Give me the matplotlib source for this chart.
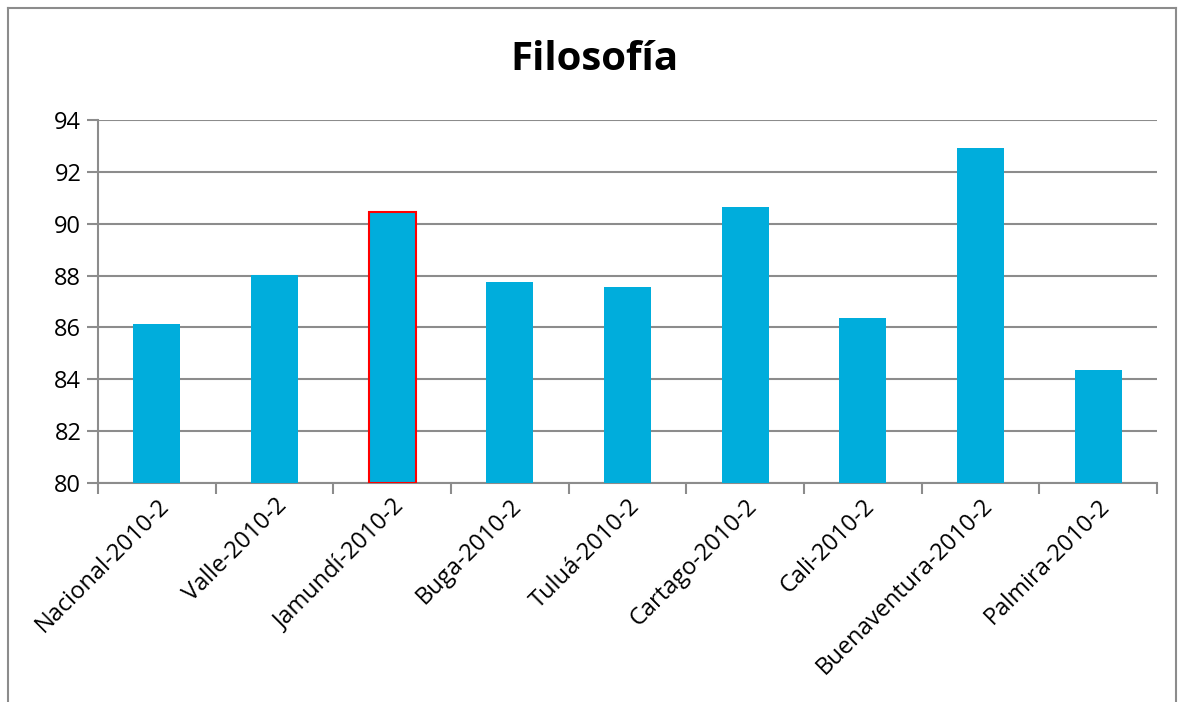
import matplotlib
matplotlib.use('Agg')
from matplotlib import pyplot as plt
from matplotlib.lines import Line2D

plt.rcParams['font.family'] = ['Open Sans', 'DejaVu Sans']

# data
sedes = ['Nacional-2010-2', 'Valle-2010-2', 'Jamundí-2010-2', 'Buga-2010-2', 'Tuluá-2010-2',
         'Cartago-2010-2', 'Cali-2010-2', 'Buenaventura-2010-2', 'Palmira-2010-2']
valores = [86.13, 88.02, 90.45, 87.75, 87.56, 90.64, 86.36, 92.92, 84.36]
resaltado = 'Jamundí-2010-2'
yticks = [80, 82, 84, 86, 88, 90, 92, 94]

barcol = '#00ADDC'
gridcol = '#8C8C8C'

fig = plt.figure(figsize=(11.81, 7.02), dpi=100)
ax = fig.add_axes([98 / 1181, 1 - 483 / 702, (1157 - 98) / 1181, (483 - 120) / 702])

x = list(range(len(sedes)))
edges = ['red' if s == resaltado else barcol for s in sedes]
lws = [1.5 if s == resaltado else 0 for s in sedes]
ax.bar(x, [v - 80 for v in valores], bottom=80, width=0.4, color=barcol,
       edgecolor=edges, linewidth=lws, zorder=3)

ax.set_xlim(-0.5, len(sedes) - 0.5)
ax.set_ylim(80, 94)
ax.set_yticks(yticks)
ax.set_yticklabels([str(t) for t in yticks], fontsize=17)
ax.yaxis.grid(True, color=gridcol, linewidth=1.5, zorder=0)

# category labels on major ticks, boundary marks on minor ticks
ax.set_xticks(x)
ax.set_xticklabels(sedes, rotation=45, ha='right', rotation_mode='anchor', fontsize=17)
ax.tick_params(axis='x', which='major', length=0, pad=8)
ax.set_xticks([i - 0.5 for i in range(len(sedes) + 1)], minor=True)
ax.tick_params(axis='x', which='minor', length=8, color=gridcol, width=1.5, direction='out')
ax.tick_params(axis='y', length=8, color=gridcol, width=1.5, direction='out', pad=4)

for side in ['top', 'right']:
    ax.spines[side].set_visible(False)
for side in ['left', 'bottom']:
    ax.spines[side].set_color(gridcol)
    ax.spines[side].set_linewidth(1.5)

fig.text(0.503, 1 - 60 / 702, 'Filosofía', ha='center', va='center', fontsize=29, fontweight='bold')

# outer chart frame
fl = dict(color='#8C8C8C', linewidth=1.5, transform=fig.transFigure)
fig.lines.append(Line2D([8 / 1181, 8 / 1181], [0, 1 - 8 / 702], **fl))
fig.lines.append(Line2D([8 / 1181, 1176 / 1181], [1 - 8 / 702, 1 - 8 / 702], **fl))
fig.lines.append(Line2D([1176 / 1181, 1176 / 1181], [0, 1 - 8 / 702], **fl))

fig.savefig('out.png', dpi=100)
